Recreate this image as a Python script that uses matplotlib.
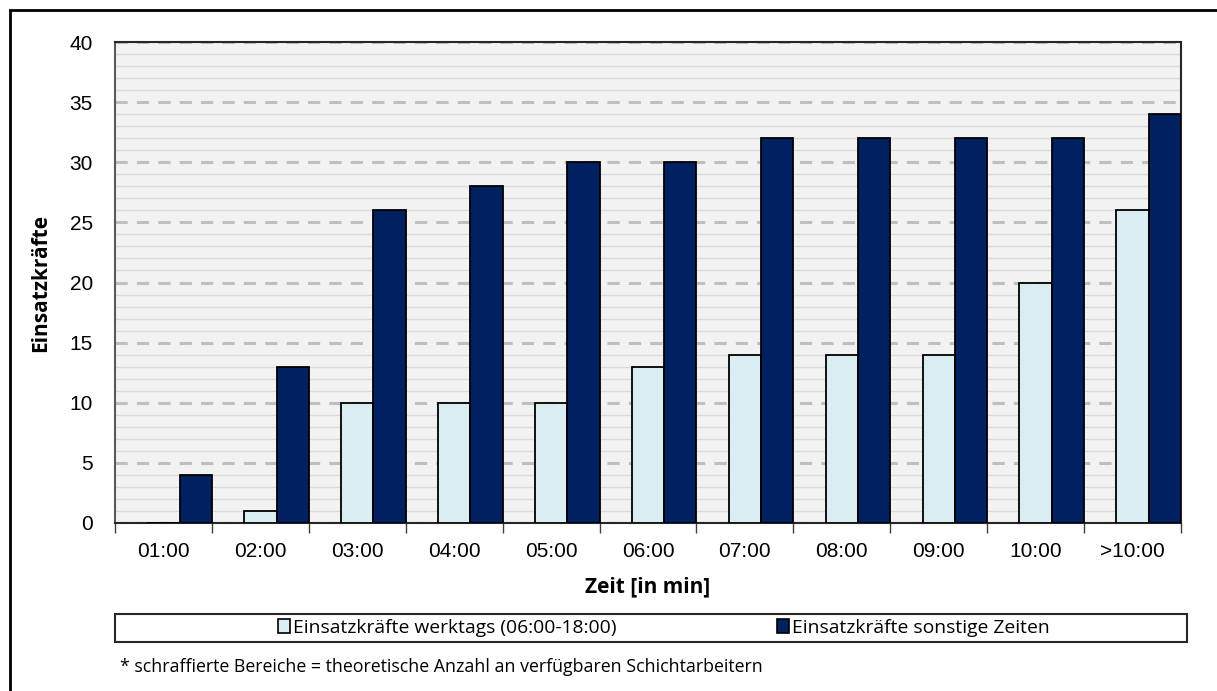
import matplotlib.pyplot as plt
from matplotlib.patches import Patch, Rectangle
import numpy as np

categories = ["01:00", "02:00", "03:00", "04:00", "05:00", "06:00", "07:00", "08:00", "09:00", "10:00", ">10:00"]
werktags = [0, 1, 10, 10, 10, 13, 14, 14, 14, 20, 26]
sonstige = [4, 13, 26, 28, 30, 30, 32, 32, 32, 32, 34]
yticks = [0, 5, 10, 15, 20, 25, 30, 35, 40]

light = "#daedf3"
dark = "#002060"

W, H = 1217, 691
fig = plt.figure(figsize=(W / 100, H / 100), dpi=100)
ax = fig.add_axes([115 / W, 1 - 523 / H, (1181 - 115) / W, (523 - 42) / H])

x = np.arange(len(categories))
bw = 1 / 3
ax.bar(x, werktags, width=bw, color=light, edgecolor="black", linewidth=1.3, zorder=3)
ax.bar(x + bw, sonstige, width=bw, color=dark, edgecolor="black", linewidth=1.3, zorder=3)

ax.set_facecolor("#f2f2f2")
ax.set_xlim(-0.5, len(categories) - 0.5)
ax.set_ylim(0, 40)
ax.set_yticks(yticks)
ax.set_yticks(np.arange(0, 41, 1), minor=True)
ax.yaxis.grid(True, which="minor", color="#dadada", linewidth=1, zorder=0)
ax.yaxis.grid(True, which="major", color="#bfbfbf", linewidth=2.2, linestyle=(0, (4, 3)), zorder=1)
ax.tick_params(axis="y", which="both", length=0, labelsize=15, pad=16)
for lab in ax.get_yticklabels():
    lab.set_family("Liberation Sans")

ax.set_xticks(x)
ax.set_xticklabels(categories, family="Liberation Sans", fontsize=15)
ax.set_xticks(np.arange(-0.5, len(categories), 1), minor=True)
ax.tick_params(axis="x", which="major", length=0, pad=14)
ax.tick_params(axis="x", which="minor", length=7, width=1, color="#404040", direction="out")

ax.spines["left"].set_color("#595959")
ax.spines["left"].set_linewidth(1.5)
for side in ["bottom", "top", "right"]:
    ax.spines[side].set_color("#262626")
    ax.spines[side].set_linewidth(1.5)

ax.set_xlabel("Zeit [in min]", family="Open Sans", fontweight="bold", fontsize=15, labelpad=11)
ax.set_ylabel("Einsatzkräfte", family="Open Sans", fontweight="bold", fontsize=15, labelpad=13)

# legend box
fig.patches.append(Rectangle((115 / W, 1 - 642 / H), (1187 - 115) / W, 28 / H,
                             transform=fig.transFigure, fill=False, edgecolor="#262626", linewidth=1.5))
handles = [Patch(facecolor=light, edgecolor="black", linewidth=1.2),
           Patch(facecolor=dark, edgecolor="black", linewidth=1.2)]
labels = ["Einsatzkräfte werktags (06:00-18:00)", "Einsatzkräfte sonstige Zeiten"]
fig.legend(handles, labels, loc="center", bbox_to_anchor=(664 / W, 1 - 628 / H), ncol=2, frameon=False,
           prop={"family": "Open Sans", "size": 13.9}, handlelength=0.62, handleheight=0.75,
           handletextpad=0.15, columnspacing=8.3, borderpad=0)

fig.text(120 / W, 1 - 667 / H,
         "* schraffierte Bereiche = theoretische Anzahl an verfügbaren Schichtarbeitern",
         family="Open Sans", fontsize=12.8, va="center", ha="left")

# outer frame (cropped at right/bottom)
fig.patches.append(Rectangle((10 / W, -0.1), 1.2, 1 - 10 / H + 0.1,
                             transform=fig.transFigure, fill=False, edgecolor="black", linewidth=2))

fig.savefig("out.png", dpi=100)
